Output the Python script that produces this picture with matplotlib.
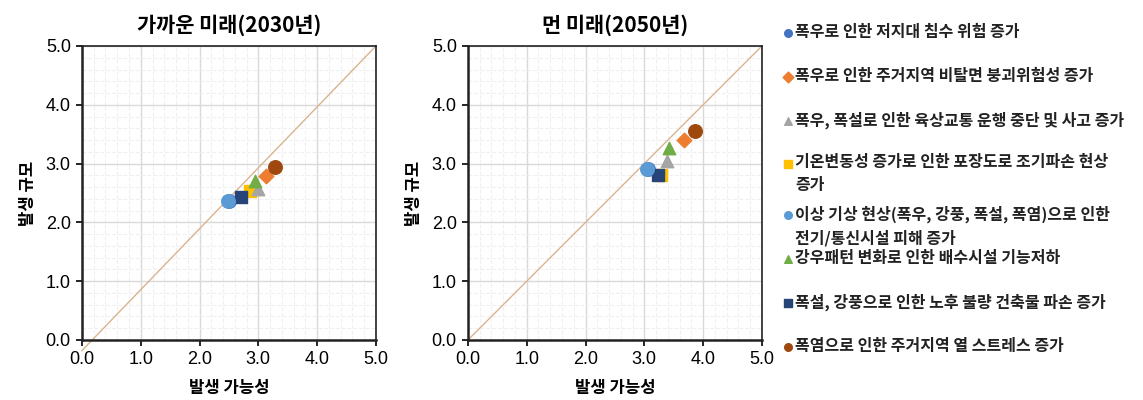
import matplotlib
matplotlib.use("Agg")
import matplotlib.pyplot as plt
from matplotlib.ticker import MultipleLocator, FormatStrFormatter

plt.rcParams['font.family'] = ['Noto Sans CJK KR', 'DejaVu Sans']

# 항목 (legend labels)
labels = [
    '폭우로 인한 저지대 침수 위험 증가',
    '폭우로 인한 주거지역 비탈면 붕괴위험성 증가',
    '폭우, 폭설로 인한 육상교통 운행 중단 및 사고 증가',
    '기온변동성 증가로 인한 포장도로 조기파손 현상\n증가',
    '이상 기상 현상(폭우, 강풍, 폭설, 폭염)으로 인한\n전기/통신시설 피해 증가',
    '강우패턴 변화로 인한 배수시설 기능저하',
    '폭설, 강풍으로 인한 노후 불량 건축물 파손 증가',
    '폭염으로 인한 주거지역 열 스트레스 증가',
]
colors = ['#4472c4', '#ed7d31', '#a5a5a5', '#ffc000', '#5b9bd5', '#70ad47', '#264478', '#9e480e']
markers = ['o', 'D', '^', 's', 'o', '^', 's', 'o']

# 가까운 미래(2030년): 발생 가능성, 발생 규모
near_x = [2.50, 3.13, 2.99, 2.86, 2.49, 2.95, 2.70, 3.28]
near_y = [2.36, 2.79, 2.56, 2.53, 2.37, 2.70, 2.44, 2.95]
# 먼 미래(2050년)
far_x = [3.06, 3.67, 3.38, 3.29, 3.05, 3.42, 3.24, 3.86]
far_y = [2.90, 3.40, 3.05, 2.81, 2.91, 3.27, 2.81, 3.55]

titles = ['가까운 미래(2030년)', '먼 미래(2050년)']

fig = plt.figure(figsize=(11.43, 4.0), dpi=100)
ax1 = fig.add_axes([0.0717, 0.15, 0.2572, 0.735])
ax2 = fig.add_axes([0.4094, 0.15, 0.2572, 0.735])

sizes = [95, 55, 80, 80, 95, 80, 80, 95]

for ax, xs, ys, title, diag in [(ax1, near_x, near_y, titles[0], (0.0, -0.18)),
                                (ax2, far_x, far_y, titles[1], (0.0, 0.0))]:
    ax.set_xlim(0, 5)
    ax.set_ylim(0, 5)
    ax.xaxis.set_major_locator(MultipleLocator(1))
    ax.yaxis.set_major_locator(MultipleLocator(1))
    ax.xaxis.set_minor_locator(MultipleLocator(0.2))
    ax.yaxis.set_minor_locator(MultipleLocator(0.2))
    ax.xaxis.set_major_formatter(FormatStrFormatter('%.1f'))
    ax.yaxis.set_major_formatter(FormatStrFormatter('%.1f'))
    ax.grid(True, which='major', color='#d9d9d9', lw=1.0)
    ax.grid(True, which='minor', color='#f0f0f0', lw=0.8, ls='--')
    ax.set_axisbelow(True)
    ax.tick_params(which='minor', length=0)
    ax.tick_params(which='major', direction='out', length=4, width=1.2, labelsize=13, pad=4,
                   labelfontfamily='Liberation Sans')
    for s in ax.spines.values():
        s.set_linewidth(1.2)
        s.set_color('#222222')
    ax.spines['left'].set_linewidth(1.8)
    ax.spines['bottom'].set_linewidth(1.8)
    ax.plot([diag[0], 5], [diag[1], 5], color='#d9b48f', lw=1.0, clip_on=False, zorder=2)
    for i in range(len(labels)):
        ax.scatter(xs[i], ys[i], marker=markers[i], s=sizes[i], color=colors[i],
                   zorder=3 + (i % 3))
    ax.set_title(title, fontsize=15, fontweight='bold', pad=10)
    ax.set_xlabel('발생 가능성', fontsize=12, fontweight='bold', labelpad=8)
    ax.set_ylabel('발생 규모', fontsize=12, fontweight='bold', labelpad=6)

# legend drawn as a side panel in pixel coordinates
lax = fig.add_axes([0, 0, 1, 1], zorder=-1)
lax.set_xlim(0, 1143)
lax.set_ylim(400, 0)
lax.axis('off')
legend_y = [33, 77, 121, 164, 215, 259, 303, 347]
for i, lab in enumerate(labels):
    lax.scatter(788, legend_y[i], marker=markers[i], s=30, color=colors[i])
    lax.text(795, legend_y[i] - 9.5, lab, fontsize=11.5, fontweight='bold', va='top',
             ha='left', linespacing=1.5, color='#222222')

fig.savefig('out.png', dpi=100)
